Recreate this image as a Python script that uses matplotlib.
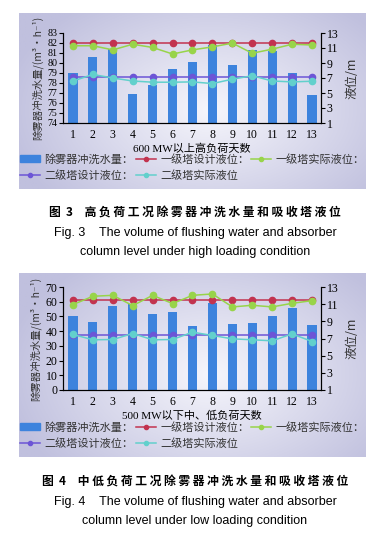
import matplotlib

matplotlib.use("Agg")
import matplotlib.pyplot as plt
import numpy as np
from matplotlib.lines import Line2D
from matplotlib.patches import Patch

W, H = 390, 534

days = np.arange(1, 14)

# Fig. 3 high load
high_flush = [78.95, 80.57, 81.4, 76.85, 77.75, 79.36, 80.07, 81.75, 79.76, 81.25, 81.15, 78.95, 76.75]
high_t1_design = [11.65] * 13
high_t1_actual = [11.3, 11.3, 10.75, 11.5, 11.07, 10.2, 10.75, 11.15, 11.65, 10.3, 10.85, 11.5, 11.4]
high_t2_design = [7.2] * 13
high_t2_actual = [6.6, 7.47, 7.0, 6.6, 6.44, 6.44, 6.48, 6.26, 6.84, 7.3, 6.6, 6.48, 6.57]

# Fig. 4 low load
low_flush = [50.3, 46.3, 57.1, 58.5, 51.7, 53.0, 43.3, 58.9, 44.9, 45.6, 50.1, 55.5, 44.2]
low_t1_design = [11.53] * 13
low_t1_actual = [10.95, 11.92, 12.03, 10.83, 12.03, 11.07, 12.03, 12.19, 10.68, 10.87, 10.68, 11.1, 11.41]
low_t2_design = [7.35] * 13
low_t2_actual = [7.47, 6.85, 6.88, 7.58, 6.85, 6.88, 7.74, 7.35, 6.96, 6.85, 6.73, 7.54, 6.65]

LEGEND_LABELS = ["除雾器冲洗水量：", "一级塔设计液位：", "一级塔实际液位：", "二级塔设计液位：", "二级塔实际液位"]
BAR_COLOR = "#3d83dd"
RED = "#c2334f"
GREEN = "#98d44a"
PURPLE = "#6c55d6"
CYAN = "#62d0cc"

plt.rcParams["font.family"] = ["Liberation Serif", "Noto Sans CJK SC"]

CJK = ["Noto Sans CJK SC", "DejaVu Sans"]
LABEL_FONT = ["Noto Sans CJK SC", "DejaVu Serif"]


def box(left, top, right, bottom):
    return [left / W, 1 - bottom / H, (right - left) / W, (bottom - top) / H]


def gradient_bg(fig, left, top, right, bottom):
    bg = fig.add_axes(box(left, top, right, bottom), zorder=-5)
    ny, nx = 200, 400
    yy, xx = np.mgrid[0:ny, 0:nx]
    cx, cy = nx * 0.55, ny * 0.55
    r = np.sqrt(((xx - cx) / (nx * 0.6)) ** 2 + ((yy - cy) / (ny * 0.75)) ** 2)
    r = np.clip(r, 0, 1)
    edge = np.array([192, 192, 222]) / 255
    center = np.array([246, 246, 252]) / 255
    img = center[None, None, :] * (1 - r[..., None]) + edge[None, None, :] * r[..., None]
    bg.imshow(img, aspect="auto", interpolation="bilinear")
    bg.axis("off")


def panel(fig, rect, flush, t1d, t1a, t2d, t2a, ylim, yticks, xlabel, legend_y, ytick_size):
    ax = fig.add_axes(rect)
    ax.patch.set_alpha(0)
    ax.bar(days, flush, width=0.46, color=BAR_COLOR, zorder=2)
    ax.set_ylim(*ylim)
    ax.set_yticks(yticks)
    ax.set_xlim(0.5, 13.45)
    ax.set_xticks(days)
    ax.tick_params(axis="x", length=0, labelsize=8.5, pad=4)
    ax.tick_params(axis="y", direction="out", length=3, width=0.8, labelsize=ytick_size, pad=1)
    ax.spines["top"].set_visible(False)
    ax.set_ylabel("除雾器冲洗水量/(m³·h⁻¹)", fontsize=7.5, labelpad=3, family=LABEL_FONT,
                  color="#333333")
    ax.set_xlabel(xlabel, fontsize=8, labelpad=2)

    ax2 = ax.twinx()
    ax2.patch.set_alpha(0)
    ms = 4.5
    ax2.plot(days, t1d, color=RED, marker="o", ms=ms, lw=1.1, zorder=3)
    ax2.plot(days, t1a, color=GREEN, marker="o", ms=ms, lw=1.1, zorder=3)
    ax2.plot(days, t2d, color=PURPLE, marker="o", ms=ms, lw=1.1, zorder=3)
    ax2.plot(days, t2a, color=CYAN, marker="o", ms=ms, lw=1.1, zorder=3)
    ax2.set_ylim(1, 13)
    ax2.set_yticks(np.arange(1, 14, 2))
    ax2.tick_params(axis="y", direction="out", length=3, width=0.8, labelsize=8.5, pad=1)
    ax2.spines["top"].set_visible(False)
    ax2.set_ylabel("液位/m", fontsize=9, labelpad=5, family=CJK, color="#333333")

    handles = [
        Patch(color=BAR_COLOR),
        Line2D([], [], color=PURPLE, marker="o", ms=3, lw=1.1),
        Line2D([], [], color=RED, marker="o", ms=3, lw=1.1),
        Line2D([], [], color=CYAN, marker="o", ms=3, lw=1.1),
        Line2D([], [], color=GREEN, marker="o", ms=3, lw=1.1),
    ]
    labels = [LEGEND_LABELS[0], LEGEND_LABELS[3], LEGEND_LABELS[1], LEGEND_LABELS[4], LEGEND_LABELS[2]]
    leg = fig.legend(
        handles,
        labels,
        loc="upper left",
        bbox_to_anchor=(20 / W, 1 - (legend_y + 2) / H),
        ncol=3,
        frameon=False,
        prop={"family": CJK, "size": 8},
        handlelength=1.8,
        handleheight=0.6,
        handletextpad=0.4,
        columnspacing=0.2,
        labelspacing=0.45,
        borderpad=0,
        borderaxespad=0,
    )
    for t in leg.get_texts():
        t.set_color("#333333")
    return ax


def caption(fig, y_top, cn, en1, en2):
    fig.text(0.5, 1 - y_top / H, cn, ha="center", va="center", fontsize=8.5,
             family=CJK, fontweight="bold")
    fig.text(0.5, 1 - (y_top + 20) / H, en1, ha="center", va="center", fontsize=9,
             family="Liberation Sans")
    fig.text(0.5, 1 - (y_top + 39) / H, en2, ha="center", va="center", fontsize=9,
             family="Liberation Sans")


fig = plt.figure(figsize=(W / 100, H / 100), dpi=100)
fig.patch.set_facecolor("white")

gradient_bg(fig, 19, 13, 366, 189)
gradient_bg(fig, 19, 273, 366, 457)

panel(fig, box(63, 33, 321, 123), high_flush, high_t1_design, high_t1_actual,
      high_t2_design, high_t2_actual, (74, 83), np.arange(74, 84, 1),
      "600 MW以上高负荷天数", 152, 7.2)
panel(fig, box(63, 287, 321, 390), low_flush, low_t1_design, low_t1_actual,
      low_t2_design, low_t2_actual, (0, 70), np.arange(0, 71, 10),
      "500 MW以下中、低负荷天数", 420, 8.5)

caption(fig, 213, "图  3　高 负 荷 工 况 除 雾 器 冲 洗 水 量 和 吸 收 塔 液 位",
        "Fig. 3    The volume of flushing water and absorber",
        "column level under high loading condition")
caption(fig, 482, "图  4　中 低 负 荷 工 况 除 雾 器 冲 洗 水 量 和 吸 收 塔 液 位",
        "Fig. 4    The volume of flushing water and absorber",
        "column level under low loading condition")

fig.savefig("out.png", dpi=100)
